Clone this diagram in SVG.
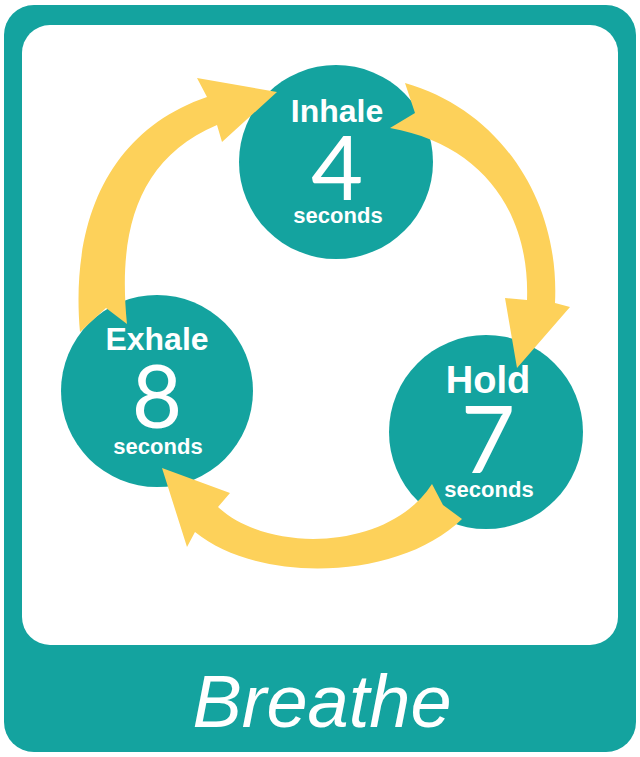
<svg xmlns="http://www.w3.org/2000/svg" width="640" height="757" viewBox="0 0 640 757">
<style>
.teal{fill:#14a39f}
.arrow{fill:#fdd15a}
.lbl{font-family:"Liberation Sans",Arial,sans-serif;font-weight:bold;fill:#fff;text-anchor:middle}
.num{font-family:Lato,"Liberation Sans",Arial,sans-serif;font-weight:normal;fill:#fff;text-anchor:middle}
.title{font-family:"Liberation Sans",Arial,sans-serif;font-style:italic;fill:#fff;text-anchor:middle}
</style>
<rect id="frame" class="teal" x="4" y="5" width="632" height="747" rx="30"/>
<rect id="panel" x="22" y="25" width="596" height="620" rx="28" fill="#fff"/>
<g id="inhale">
<circle class="teal" cx="336" cy="162" r="97"/>
<text class="lbl" x="337" y="122" font-size="32">Inhale</text>
<text class="num" x="337" y="200" font-size="90">4</text>
<text class="lbl" x="338" y="223" font-size="22">seconds</text>
</g>
<g id="exhale">
<circle class="teal" cx="157" cy="391" r="96"/>
<text class="lbl" x="157" y="350" font-size="32">Exhale</text>
<text class="num" x="157" y="428" font-size="87">8</text>
<text class="lbl" x="158" y="454" font-size="22">seconds</text>
</g>
<g id="hold">
<circle class="teal" cx="486" cy="432" r="97"/>
<text class="lbl" x="488" y="393" font-size="38">Hold</text>
<text class="num" x="488" y="473" font-size="94">7</text>
<text class="lbl" x="489" y="497" font-size="22">seconds</text>
</g>
<g id="connectors">
<path class="arrow" d="M80,332 L106,308 L127,324 C118,235 135,160 217,125 L222,142 L277,92 L197,78 L207,97 C110,130 70,220 80,332 Z"/>
<path class="arrow" d="M405,83 L415,113 L390,128 C485,145 530,215 527,300 L505,298 L517,368 L570,307 L555,303 C560,200 500,110 405,83 Z"/>
<path class="arrow" d="M432,484 L443,505 L462,519 C400,580 260,585 195,532 L187,547 L162,468 L230,493 L218,507 C270,555 390,550 432,484 Z"/>
</g>
<text id="title" class="title" x="322" y="727" font-size="74">Breathe</text>
</svg>
